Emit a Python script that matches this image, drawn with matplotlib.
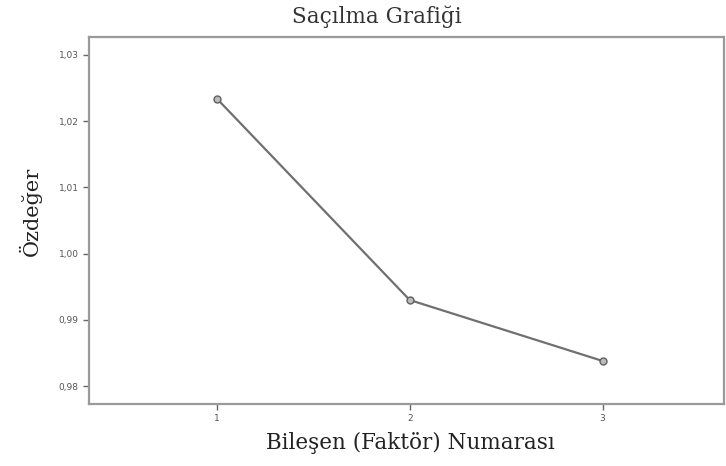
import matplotlib
matplotlib.use("Agg")
import matplotlib.pyplot as plt
from matplotlib.ticker import FuncFormatter

# bileşen numarası ve özdeğerler
components = [1, 2, 3]
eigenvalues = [1.0234, 0.9930, 0.9838]
yticks = [0.98, 0.99, 1.00, 1.01, 1.02, 1.03]

fig = plt.figure(figsize=(7.26, 4.66), dpi=100)
ax = fig.add_axes([89/726, 1 - 404/466, (724-89)/726, (404-37)/466])

ax.plot(components, eigenvalues, color="#707070", lw=1.6,
        marker="o", ms=5, mfc="#bbbbbb", mec="#606060", mew=1)

ax.set_xlim(0.337, 3.63)
ax.set_ylim(0.9773, 1.0327)
ax.set_xticks(components)
ax.set_yticks(yticks)
ax.yaxis.set_major_formatter(FuncFormatter(lambda v, p: ("%.2f" % v).replace(".", ",")))

for s in ax.spines.values():
    s.set_color("#9a9a9a")
    s.set_linewidth(1.6)
ax.tick_params(axis="both", direction="out", length=4, width=1,
               color="#666666", labelsize=6.5, labelcolor="#555555")

serif = ["DejaVu Serif"]
fig.text(377/726, 1 - 17/466, "Saçılma Grafiği", ha="center", va="center",
         fontsize=15.5, family=serif, color="#333333")
fig.text(410/726, 1 - 443/466, "Bileşen (Faktör) Numarası", ha="center", va="center",
         fontsize=15.5, family=serif, color="#222222")
fig.text(30/726, 1 - 211/466, "Özdeğer", ha="center", va="center", rotation=90,
         fontsize=15, family=serif, color="#222222")

fig.savefig("out.png", dpi=100)
